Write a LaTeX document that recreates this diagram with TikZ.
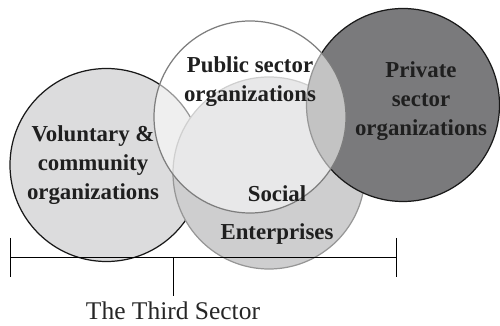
\documentclass[tikz,border=0pt]{standalone}
\usepackage{fontspec}
\setmainfont{Liberation Serif}
\usepackage{xcolor}
\usepackage{tikz}
\definecolor{volcolor}{RGB}{220,220,221}
\definecolor{soccolor}{RGB}{206,206,207}
\definecolor{privcolor}{RGB}{122,122,124}
\definecolor{publine}{RGB}{125,125,125}
\definecolor{socline}{RGB}{150,150,150}

\begin{document}
\begin{tikzpicture}[
	setlabel/.style={align=center, inner sep=0pt, text=black!88,
		font=\fontsize{13}{16.5}\selectfont\bfseries},
	ring/.style={line width=0.7pt}
	]
	\useasboundingbox (0,0) rectangle (10,6.5);
	
	% Voluntary & community
	\draw[ring, fill=volcolor, draw=black!90] (2.13,3.2) circle (1.93cm);
	
	% Social enterprises
	\draw[ring, fill=soccolor, draw=socline] (5.38,3.04) circle (1.92cm);
	
	% Private sector
	\draw[ring, fill=privcolor, draw=black!90] (8.06,4.4) circle (1.93cm);
	
	% Public sector (see-through)
	\draw[ring, fill=white, fill opacity=0.55, draw=publine] (5.0,4.16) circle (1.92cm);
	
	% Labels
	\node[setlabel] (public) at (5.0,4.86) {Public sector\\organizations};
	\node[setlabel] (voluntary) at (1.86,3.19) {Voluntary \&\\community\\organizations};
	\node[setlabel] (private) at (8.42,4.48) {Private\\sector\\organizations};
	\node[setlabel] (social) at (5.54,2.2) {Social\\[5pt]Enterprises};
	
	% The Third Sector bracket
	\coordinate (left) at (0.2,1.36);
	\coordinate (right) at (7.92,1.36);
	\coordinate (mid) at (3.46,1.36);
	\coordinate (midend) at (3.46,0.58);
	\draw[thin] (left) -- (right);
	\draw[thin] ([yshift=0.38cm]left) -- ([yshift=-0.4cm]left);
	\draw[thin] ([yshift=0.38cm]right) -- ([yshift=-0.4cm]right);
	\draw[thin] (mid) -- (midend);
	\node[anchor=north, inner sep=0pt, font=\fontsize{14.5}{17}\selectfont, text=black!85]
		(third) at ([yshift=-0.1cm]midend) {The Third Sector};
\end{tikzpicture}
\end{document}
